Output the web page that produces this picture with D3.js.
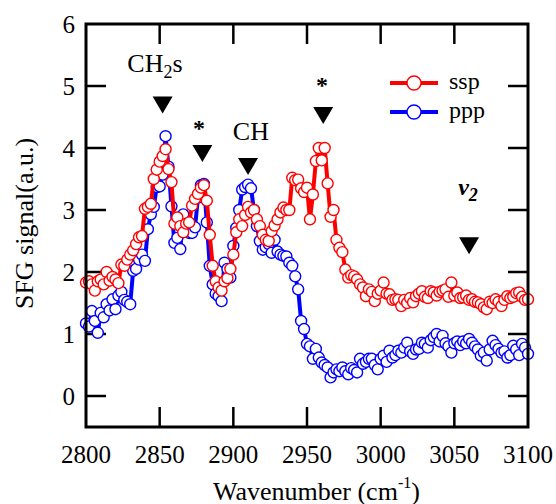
<!DOCTYPE html>
<html>
<head>
<meta charset="utf-8">
<script src="https://cdn.jsdelivr.net/npm/d3@7"></script>
<style>
body { margin: 0; background: #fff; }
text { font-family: "Liberation Serif", "Times New Roman", serif; fill: #000; }
</style>
</head>
<body>
<div id="chart"></div>
<script>
// wavenumber (cm-1) of every measured point
var wavenumber = [
    2800, 2802, 2804, 2806, 2808, 2810, 2812, 2814, 2816, 2818,
    2820, 2822, 2824, 2826, 2828, 2830, 2832, 2834, 2836, 2838,
    2840, 2842, 2844, 2846, 2848, 2850, 2852, 2854, 2856, 2858,
    2860, 2862, 2864, 2866, 2868, 2870, 2872, 2874, 2876, 2878,
    2880, 2882, 2884, 2886, 2888, 2890, 2892, 2894, 2896, 2898,
    2900, 2902, 2904, 2906, 2908, 2910, 2912, 2914, 2916, 2918,
    2920, 2922, 2924, 2926, 2928, 2930, 2932, 2934, 2936, 2938,
    2940, 2942, 2944, 2946, 2948, 2950, 2952, 2954, 2956, 2958,
    2960, 2962, 2964, 2966, 2968, 2970, 2972, 2974, 2976, 2978,
    2980, 2982, 2984, 2986, 2988, 2990, 2992, 2994, 2996, 2998,
    3000, 3002, 3004, 3006, 3008, 3010, 3012, 3014, 3016, 3018,
    3020, 3022, 3024, 3026, 3028, 3030, 3032, 3034, 3036, 3038,
    3040, 3042, 3044, 3046, 3048, 3050, 3052, 3054, 3056, 3058,
    3060, 3062, 3064, 3066, 3068, 3070, 3072, 3074, 3076, 3078,
    3080, 3082, 3084, 3086, 3088, 3090, 3092, 3094, 3096, 3098,
    3100];

var ssp = [
    1.83, 1.85, 1.80, 1.70, 1.85, 1.88, 1.80, 2.00, 1.86, 1.92,
    1.88, 1.82, 2.12, 2.10, 2.20, 2.28, 2.35, 2.45, 2.56, 2.58,
    3.02, 3.05, 3.10, 3.50, 3.65, 3.78, 3.87, 3.98, 3.66, 3.45,
    2.78, 2.88, 2.74, 2.64, 2.78, 2.80, 3.07, 3.18, 3.26, 3.36,
    3.40, 3.15, 2.60, 2.10, 1.85, 1.75, 1.70, 1.85, 1.90, 2.05,
    2.28, 2.64, 2.85, 2.74, 2.92, 3.05, 2.96, 3.00, 2.85, 2.74,
    2.60, 2.52, 2.50, 2.66, 2.75, 2.85, 2.96, 3.04, 3.00, 3.00,
    3.52, 3.48, 3.49, 3.35, 3.29, 3.36, 2.85, 3.25, 3.79, 4.00,
    3.80, 4.00, 3.43, 2.89, 3.00, 2.52, 2.39, 2.32, 2.04, 1.91,
    1.95, 1.93, 1.88, 1.80, 1.75, 1.61, 1.72, 1.68, 1.53, 1.65,
    1.70, 1.83, 1.65, 1.64, 1.55, 1.56, 1.55, 1.45, 1.55, 1.50,
    1.58, 1.51, 1.61, 1.65, 1.69, 1.60, 1.58, 1.69, 1.67, 1.62,
    1.68, 1.70, 1.72, 1.60, 1.83, 1.62, 1.67, 1.58, 1.59, 1.62,
    1.55, 1.56, 1.52, 1.51, 1.48, 1.43, 1.40, 1.52, 1.50, 1.56,
    1.52, 1.45, 1.55, 1.61, 1.58, 1.60, 1.66, 1.67, 1.60, 1.55,
    1.56];

var ppp = [
    1.17, 1.12, 1.37, 1.21, 1.02, 1.34, 1.27, 1.48, 1.38, 1.56,
    1.40, 1.62, 1.68, 1.55, 1.52, 1.48, 2.02, 2.05, 2.20, 2.28,
    2.18, 2.69, 2.93, 3.05, 3.37, 3.38, 3.57, 4.19, 3.70, 3.06,
    2.47, 2.55, 2.37, 2.93, 2.75, 2.63, 2.63, 2.72, 3.20, 3.40,
    3.42, 2.80, 2.10, 1.80, 1.65, 1.61, 1.53, 2.15, 2.05, 1.91,
    2.42, 2.71, 3.00, 3.33, 3.37, 3.41, 3.35, 3.00, 2.74, 2.50,
    2.36, 2.40, 2.45, 2.31, 2.52, 2.33, 2.28, 2.26, 2.25, 2.15,
    2.10, 1.93, 1.72, 1.21, 1.08, 0.84, 0.80, 0.60, 0.76, 0.62,
    0.54, 0.50, 0.46, 0.30, 0.38, 0.43, 0.40, 0.46, 0.40, 0.35,
    0.45, 0.42, 0.38, 0.60, 0.52, 0.55, 0.60, 0.60, 0.50, 0.43,
    0.60, 0.65, 0.55, 0.73, 0.62, 0.66, 0.73, 0.70, 0.78, 0.86,
    0.72, 0.68, 0.75, 0.76, 0.86, 0.84, 0.78, 0.90, 0.95, 1.00,
    0.88, 0.97, 0.85, 0.80, 0.70, 0.85, 0.88, 0.82, 0.88, 0.85,
    0.92, 0.86, 0.80, 0.75, 0.65, 0.70, 0.57, 0.75, 0.89, 0.82,
    0.76, 0.70, 0.72, 0.62, 0.66, 0.81, 0.75, 0.66, 0.84, 0.78,
    0.68];

var seriesNames = ["ssp", "ppp"];
var colours = ["#ff0000", "#0000ff"];

var xTickValues = [2800, 2850, 2900, 2950, 3000, 3050, 3100];
var yTickValues = [0, 1, 2, 3, 4, 5, 6];

// peak markers: wavenumber, top of triangle (signal units)
var peakPos = [2852, 2879, 2910, 2961, 3060];
var peakTop = [4.83, 4.05, 3.84, 4.66, 2.56];
// peak labels: centre wavenumber, baseline (signal units)
var labelText = ["CH2s", "*", "CH", "*", "v2"];
var labelPos = [2846.8, 2876.7, 2911.9, 2960.2, 3059.3];
var labelBase = [5.23, 4.20, 4.13, 4.89, 3.25];

var width = 556, height = 504;
var margin = { top: 24, right: 28, bottom: 77, left: 86 };

var svg = d3.select("#chart")
    .append("svg")
    .attr("width", width)
    .attr("height", height);

var xScale = d3.scaleLinear()
    .domain([2800, 3100])
    .range([margin.left, width - margin.right]);
var yScale = d3.scaleLinear()
    .domain([-0.5, 6])
    .range([height - margin.bottom, margin.top]);

var x0 = xScale.range()[0], x1 = xScale.range()[1];
var y0 = yScale.range()[0], y1 = yScale.range()[1];
var tickLen = 20;

// ticks, inward on all four sides
var innerX = xTickValues.slice(1, -1);
var innerY = yTickValues.slice(0, -1);
var ticks = svg.append("g").attr("stroke", "#000").attr("stroke-width", 2.5);
ticks.selectAll(".xb").data(innerX).enter().append("line")
    .attr("x1", function(d){ return xScale(d); }).attr("x2", function(d){ return xScale(d); })
    .attr("y1", y0).attr("y2", y0 - tickLen);
ticks.selectAll(".xt").data(innerX).enter().append("line")
    .attr("x1", function(d){ return xScale(d); }).attr("x2", function(d){ return xScale(d); })
    .attr("y1", y1).attr("y2", y1 + tickLen);
ticks.selectAll(".yl").data(innerY).enter().append("line")
    .attr("y1", function(d){ return yScale(d); }).attr("y2", function(d){ return yScale(d); })
    .attr("x1", x0).attr("x2", x0 + tickLen);
ticks.selectAll(".yr").data(innerY).enter().append("line")
    .attr("y1", function(d){ return yScale(d); }).attr("y2", function(d){ return yScale(d); })
    .attr("x1", x1).attr("x2", x1 - tickLen);

// tick labels
svg.selectAll(".xlab").data(xTickValues).enter().append("text")
    .attr("x", function(d){ return xScale(d); })
    .attr("y", y0 + 36)
    .attr("text-anchor", "middle")
    .style("font-size", "25px")
    .text(function(d){ return d; });
svg.selectAll(".ylab").data(yTickValues).enter().append("text")
    .attr("x", x0 - 11)
    .attr("y", function(d){ return yScale(d); })
    .attr("dy", "0.36em")
    .attr("text-anchor", "end")
    .style("font-size", "25px")
    .text(function(d){ return d; });

// axis titles
var xTitle = svg.append("text")
    .attr("x", 213)
    .attr("y", 500)
    .style("font-size", "26px");
xTitle.append("tspan").text("Wavenumber (cm");
xTitle.append("tspan").attr("dy", -12).style("font-size", "16px").text("-1");
xTitle.append("tspan").attr("dy", 12).text(")");

svg.append("text")
    .attr("transform", "translate(33," + ((y0 + y1) / 2 - 2) + ") rotate(-90)")
    .attr("text-anchor", "middle")
    .style("font-size", "26px")
    .text("SFG signal(a.u.)");

// series, ppp underneath ssp
var line = d3.line()
    .x(function(d){ return xScale(d[0]); })
    .y(function(d){ return yScale(d[1]); });

[ppp, ssp].forEach(function(values, k){
    var colour = values === ssp ? colours[0] : colours[1];
    var pts = wavenumber.map(function(w, i){ return [w, values[i]]; });
    var g = svg.append("g");
    g.append("path")
        .datum(pts)
        .attr("d", line)
        .attr("fill", "none")
        .attr("stroke", colour)
        .attr("stroke-width", 4)
        .attr("stroke-linejoin", "round");
    g.selectAll("circle")
        .data(pts)
        .enter()
        .append("circle")
        .attr("cx", function(d){ return xScale(d[0]); })
        .attr("cy", function(d){ return yScale(d[1]); })
        .attr("r", 5.5)
        .attr("fill", "#fff")
        .attr("stroke", colour)
        .attr("stroke-width", 1.4);
});

// peak triangles
svg.selectAll(".peak").data(peakPos).enter().append("path")
    .attr("d", function(d, i){
        var cx = xScale(d), ty = yScale(peakTop[i]);
        return "M" + (cx - 10) + "," + ty + "L" + (cx + 10) + "," + ty + "L" + cx + "," + (ty + 17) + "Z";
    })
    .attr("fill", "#000");

// peak labels
labelText.forEach(function(t, i){
    var lab = svg.append("text")
        .attr("x", xScale(labelPos[i]))
        .attr("y", yScale(labelBase[i]))
        .attr("text-anchor", "middle")
        .style("font-size", "26px");
    if (t == "CH2s") {
        lab.append("tspan").text("CH");
        lab.append("tspan").attr("dy", 6).style("font-size", "18px").text("2");
        lab.append("tspan").attr("dy", -6).text("s");
    } else if (t == "v2") {
        lab.style("font-weight", "bold").style("font-style", "italic").style("font-size", "24px");
        lab.append("tspan").text("v");
        lab.append("tspan").attr("dy", 6).style("font-size", "18px").text("2");
    } else if (t == "*") {
        lab.style("font-size", "24px").style("font-weight", "bold").text(t);
    } else {
        lab.text(t);
    }
});

// legend
var legend = svg.selectAll(".legend").data(seriesNames).enter().append("g")
    .attr("transform", function(d, i){ return "translate(390," + (83 + i * 29) + ")"; });
legend.append("line")
    .attr("x1", 0).attr("x2", 48)
    .attr("stroke", function(d, i){ return colours[i]; })
    .attr("stroke-width", 4);
legend.append("circle")
    .attr("cx", 24).attr("r", 7)
    .attr("fill", "#fff")
    .attr("stroke", function(d, i){ return colours[i]; })
    .attr("stroke-width", 1.4);
legend.append("text")
    .attr("x", 59).attr("y", 6)
    .style("font-size", "24px")
    .text(function(d){ return d; });

// frame
svg.append("rect")
    .attr("x", x0).attr("y", y1)
    .attr("width", x1 - x0).attr("height", y0 - y1)
    .attr("fill", "none")
    .attr("stroke", "#000")
    .attr("stroke-width", 3);
</script>
</body>
</html>
